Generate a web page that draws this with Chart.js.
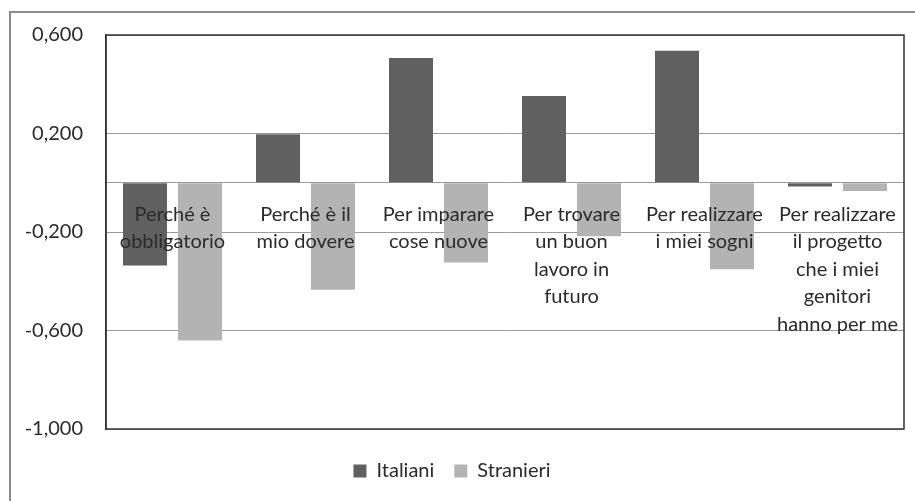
<!DOCTYPE html>
<html>
<head>
<meta charset="utf-8">
<script src="https://cdn.jsdelivr.net/npm/chart.js@4/dist/chart.umd.min.js"></script>
<style>
  html, body { margin: 0; padding: 0; background: #fff; overflow: hidden; }
  #wrap { position: relative; width: 915px; height: 501px; overflow: hidden; }
  #frame { position: absolute; left: 9px; top: 11px; width: 960px; height: 560px;
           border: 2px solid #8c8c8c; box-sizing: border-box; pointer-events: none; }
  canvas { position: absolute; left: 0; top: 0; }
</style>
</head>
<body>
<div id="wrap">
  <canvas id="chart" width="915" height="501"></canvas>
  <div id="frame"></div>
</div>
<script>
/* ——— data ——— */
const CATEGORIES = [
  ['Perché è', 'obbligatorio'],
  ['Perché è il', 'mio dovere'],
  ['Per imparare', 'cose nuove'],
  ['Per trovare', 'un buon', 'lavoro in', 'futuro'],
  ['Per realizzare', 'i miei sogni'],
  ['Per realizzare', 'il progetto', 'che i miei', 'genitori', 'hanno per me']
];
const ITALIANI  = [-0.336, 0.197, 0.507, 0.352, 0.536, -0.015];
const STRANIERI = [-0.641, -0.435, -0.324, -0.217, -0.351, -0.034];
const Y_TICKS   = [-1.0, -0.6, -0.2, 0.2, 0.6];

/* ——— style ——— */
const TXT = '#2b2b2b';
const FONT = { family: 'Lato', size: 20 };

/* plot area frame (top / right edges too) */
const plotBorder = {
  id: 'plotBorder',
  afterDatasetsDraw(chart) {
    const { ctx, chartArea: a } = chart;
    ctx.save();
    ctx.strokeStyle = '#333';
    ctx.lineWidth = 1.5;
    ctx.strokeRect(a.left, a.top, a.right - a.left, a.bottom - a.top);
    ctx.restore();
  }
};

new Chart(document.getElementById('chart'), {
  type: 'bar',
  data: {
    labels: CATEGORIES,
    datasets: [
      { label: 'Italiani',  data: ITALIANI,  backgroundColor: '#606060' },
      { label: 'Stranieri', data: STRANIERI, backgroundColor: '#b3b3b3' }
    ]
  },
  options: {
    responsive: false,
    animation: false,
    devicePixelRatio: 1,
    categoryPercentage: 0.827,
    barPercentage: 0.8,
    layout: { padding: { top: 31, right: 11, left: 0, bottom: 10 } },
    plugins: {
      tooltip: { enabled: false },
      legend: {
        position: 'bottom',
        labels: { boxWidth: 13, boxHeight: 13, padding: 20, color: TXT, font: FONT }
      }
    },
    scales: {
      x: {
        position: { y: 0 },
        grid: { display: false },
        border: { display: false },
        ticks: {
          z: 1,
          color: TXT, font: { ...FONT, lineHeight: 1.375 },
          padding: 10, maxRotation: 0, autoSkip: false
        }
      },
      x2: {
        position: 'bottom',
        grid: { display: false },
        border: { display: false },
        ticks: { display: false },
        afterFit: s => { s.height = 12; }
      },
      y: {
        min: -1.0,
        max: 0.6,
        afterBuildTicks: s => { s.ticks = Y_TICKS.concat([0]).map(v => ({ value: v })); },
        afterFit: s => { s.width = 106; },
        ticks: {
          color: TXT, font: FONT, padding: 23,
          callback: v => v === 0 ? '' : v.toFixed(3).replace('.', ',')
        },
        grid: { color: '#9a9a9a', lineWidth: 1, drawTicks: false },
        border: { display: true, color: '#333', width: 1.5 }
      }
    }
  },
  plugins: [plotBorder]
});
</script>
</body>
</html>
